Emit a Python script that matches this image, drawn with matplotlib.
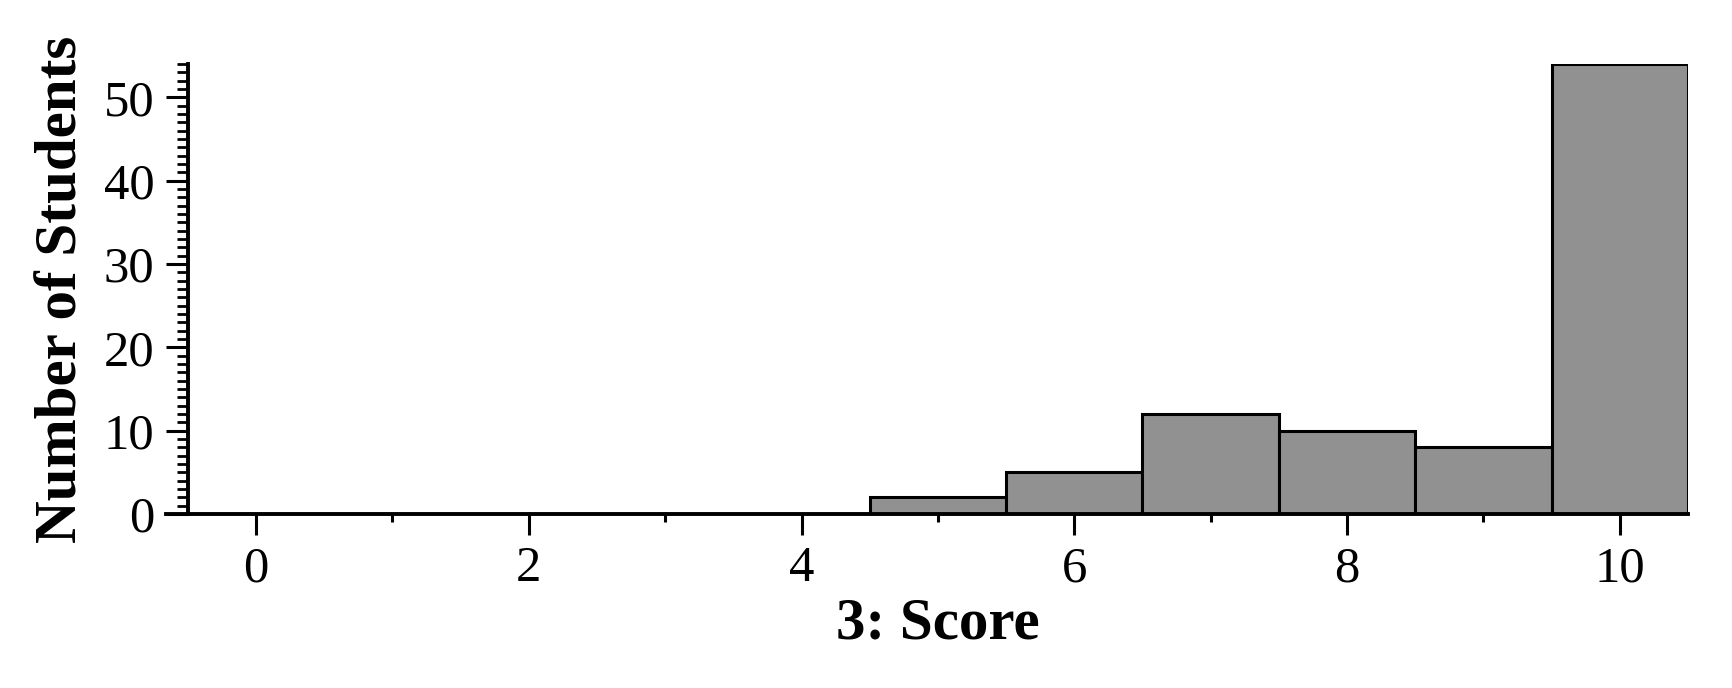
import numpy as np
import matplotlib
matplotlib.use('Agg')
import matplotlib.pyplot as plt
from matplotlib.ticker import MultipleLocator

plt.rcParams['font.family'] = ['Liberation Serif', 'DejaVu Serif']

# histogram data: score bins and counts
scores = [0, 1, 2, 3, 4, 5, 6, 7, 8, 9, 10]
counts = [0, 0, 0, 0, 0, 2, 5, 12, 10, 8, 54]
x_ticks = [0, 2, 4, 6, 8, 10]
y_ticks = [0, 10, 20, 30, 40, 50]

fig = plt.figure(figsize=(17.33, 6.88), dpi=100)
ax = fig.add_axes([0.0958, 0.2529, 0.8782, 0.6541])

ax.bar(scores, counts, width=1.0, color='#919191', edgecolor='black',
       linewidth=2.2, zorder=2)

ax.set_xlim(-0.66, 10.5)
ax.set_ylim(0, 54)

for s in ['top', 'right']:
    ax.spines[s].set_visible(False)
ax.spines['left'].set_position(('data', -0.5))
ax.spines['left'].set_linewidth(2.8)
ax.spines['bottom'].set_linewidth(2.8)
ax.spines['bottom'].set_zorder(3)

ax.set_xticks(x_ticks)
ax.set_yticks(y_ticks)
ax.xaxis.set_minor_locator(MultipleLocator(1))
ax.yaxis.set_minor_locator(MultipleLocator(1))

ax.tick_params(axis='x', which='major', length=15, width=2.2, direction='out',
               labelsize=36.5, pad=8)
ax.tick_params(axis='x', which='minor', length=6, width=2.2, direction='out')
ax.tick_params(axis='y', which='major', length=16, width=2.2, direction='out',
               labelsize=36.5, pad=8)
ax.tick_params(axis='y', which='minor', length=8, width=2.0, direction='out')

ax.set_xlabel('3: Score', fontsize=42.5, fontweight='bold')
ax.xaxis.set_label_coords(0.507, -0.185)
ax.set_ylabel('Number of Students', fontsize=42.5, fontweight='bold', labelpad=10)

fig.savefig('out.png', dpi=100)
